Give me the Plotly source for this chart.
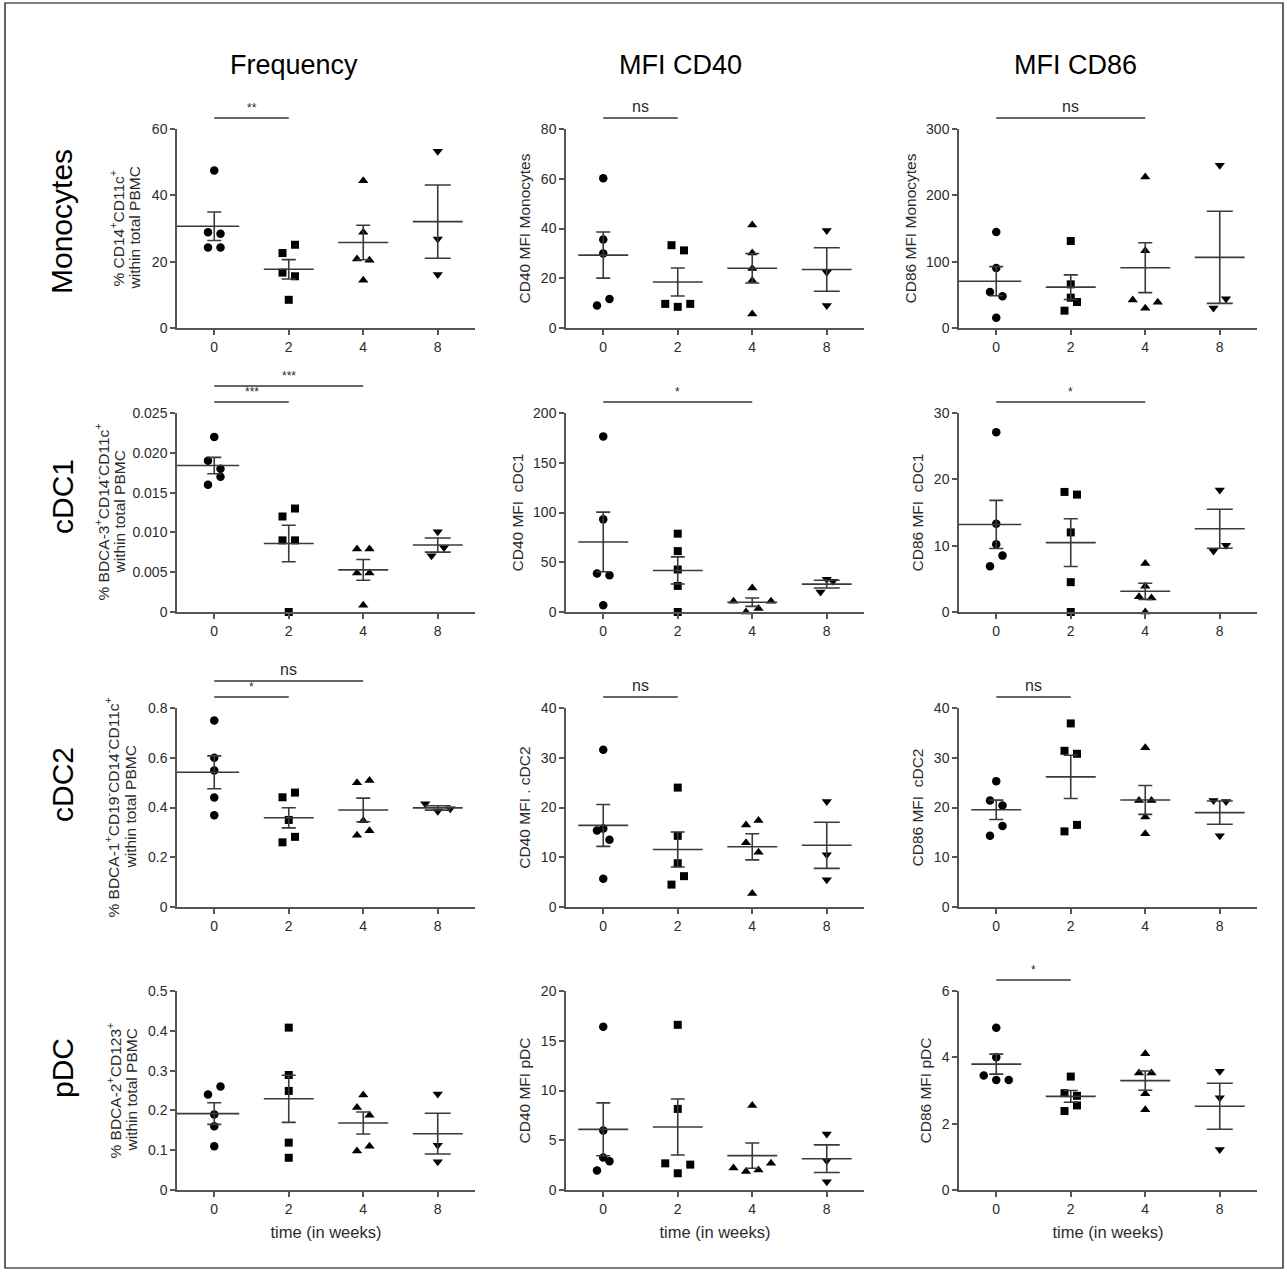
import numpy as np
import plotly.graph_objects as go

W, H = 1287, 1275
FONT = "Liberation Sans, Arial, sans-serif"
DARK = "#2b2b2b"
AXC = "#555555"

# ---------------- data ----------------
weeks = ["0", "2", "4", "8"]
row_names = ["Monocytes", "cDC1", "cDC2", "pDC"]
col_names = ["Frequency", "MFI CD40", "MFI CD86"]

mono_freq = [[47.5, 28.9, 28.4, 24.3, 24.3], [22.6, 25.1, 16.7, 15.6, 8.5],
             [44.4, 28.9, 20.8, 20.4, 14.4], [53.3, 26.8, 16.1]]
mono_cd40 = [[60.2, 35.6, 30.0, 9.0, 11.7], [33.3, 31.2, 9.7, 8.5, 9.7],
             [41.4, 30.2, 23.9, 19.1, 5.6], [39.2, 22.4, 9.0]]
mono_cd86 = [[144.7, 90.5, 54.3, 47.7, 15.6], [131.2, 65.8, 45.7, 26.1, 39.2],
             [227.6, 116.6, 42.2, 29.6, 38.7], [245.2, 30.2, 44.2]]

cdc1_freq = [[0.022, 0.019, 0.018, 0.016, 0.017], [0.012, 0.013, 0.009, 0.009, 0.0],
             [0.0079, 0.0079, 0.0049, 0.0049, 0.00084], [0.01008, 0.00706, 0.0081]]
cdc1_cd40 = [[176.5, 93.1, 38.7, 37.0, 6.7], [78.7, 61.2, 42.7, 26.2, 0.0],
             [24.2, 10.8, 0.0, 3.4, 10.8], [32.9, 20.2, 30.9]]
cdc1_cd86 = [[27.1, 13.3, 10.2, 6.9, 8.5], [18.1, 17.7, 12.0, 4.5, 0.0],
             [7.3, 3.9, 2.3, 2.1, 0.0], [18.4, 9.2, 10.05]]

cdc2_freq = [[0.75, 0.60, 0.549, 0.44, 0.369], [0.441, 0.46, 0.35, 0.26, 0.282],
             [0.499, 0.509, 0.347, 0.288, 0.307], [0.415, 0.385, 0.395]]
cdc2_cd40 = [[31.6, 15.4, 13.5, 15.8, 5.7], [24.0, 14.3, 8.8, 4.5, 6.2],
             [16.5, 17.4, 12.9, 11.0, 2.7], [21.2, 10.5, 5.5]]
cdc2_cd86 = [[25.3, 21.4, 20.4, 14.3, 16.3], [36.9, 31.4, 30.8, 15.2, 16.5],
             [32.0, 21.4, 21.4, 18.1, 14.7], [21.4, 21.2, 14.3]]

pdc_freq = [[0.24, 0.26, 0.19, 0.16, 0.11], [0.408, 0.289, 0.249, 0.119, 0.081],
            [0.239, 0.207, 0.188, 0.098, 0.11], [0.241, 0.1125, 0.071]]
pdc_cd40 = [[16.4, 5.97, 3.26, 1.95, 2.9], [16.6, 8.15, 2.68, 1.68, 2.55],
            [8.5, 2.2, 1.85, 2.0, 2.7], [5.64, 2.95, 0.84]]
pdc_cd86 = [[4.89, 4.0, 3.45, 3.32, 3.32], [3.42, 2.92, 2.84, 2.38, 2.55],
            [4.11, 3.53, 3.53, 2.9, 2.42], [3.58, 2.78, 1.22]]

panels = [[mono_freq, mono_cd40, mono_cd86],
          [cdc1_freq, cdc1_cd40, cdc1_cd86],
          [cdc2_freq, cdc2_cd40, cdc2_cd86],
          [pdc_freq, pdc_cd40, pdc_cd86]]

# first-column titles: two lines each
freq_title_l1 = ["% CD14<sup>+</sup>CD11c<sup>+</sup>",
                 "% BDCA-3<sup>+</sup>CD14<sup>-</sup>CD11c<sup>+</sup>",
                 "% BDCA-1<sup>+</sup>CD19<sup>-</sup>CD14<sup>-</sup>CD11c<sup>+</sup>",
                 "% BDCA-2<sup>+</sup>CD123<sup>+</sup>"]
freq_title_l2 = "within total PBMC"
mfi_titles = [["CD40 MFI Monocytes", "CD86 MFI Monocytes"],
              ["CD40 MFI  cDC1", "CD86 MFI  cDC1"],
              ["CD40 MFI . cDC2", "CD86 MFI  cDC2"],
              ["CD40 MFI pDC", "CD86 MFI pDC"]]
x_title = "time (in weeks)"

y_ticks = [
    [[0, 20, 40, 60], [0, 20, 40, 60, 80], [0, 100, 200, 300]],
    [[0, 0.005, 0.010, 0.015, 0.020, 0.025], [0, 50, 100, 150, 200], [0, 10, 20, 30]],
    [[0, 0.2, 0.4, 0.6, 0.8], [0, 10, 20, 30, 40], [0, 10, 20, 30, 40]],
    [[0, 0.1, 0.2, 0.3, 0.4, 0.5], [0, 5, 10, 15, 20], [0, 2, 4, 6]],
]
y_ticktext = [
    [["0", "20", "40", "60"], ["0", "20", "40", "60", "80"], ["0", "100", "200", "300"]],
    [["0", "0.005", "0.010", "0.015", "0.020", "0.025"], ["0", "50", "100", "150", "200"], ["0", "10", "20", "30"]],
    [["0", "0.2", "0.4", "0.6", "0.8"], ["0", "10", "20", "30", "40"], ["0", "10", "20", "30", "40"]],
    [["0", "0.1", "0.2", "0.3", "0.4", "0.5"], ["0", "5", "10", "15", "20"], ["0", "2", "4", "6"]],
]

# significance: (row, col, from week idx, to week idx, label, bracket level)
sig = [
    (0, 0, 0, 1, "**", 1), (0, 1, 0, 1, "ns", 1), (0, 2, 0, 2, "ns", 1),
    (1, 0, 0, 1, "***", 1), (1, 0, 0, 2, "***", 2), (1, 1, 0, 2, "*", 1), (1, 2, 0, 2, "*", 1),
    (2, 0, 0, 1, "*", 1), (2, 0, 0, 2, "ns", 2), (2, 1, 0, 1, "ns", 1), (2, 2, 0, 1, "ns", 1),
    (3, 2, 0, 1, "*", 1),
]

symbols = ["circle", "square", "triangle-up", "triangle-down"]
msize = [8.5, 8, 9, 9]

# ---------------- layout / style ----------------
col_px = [(177, 475), (566, 864), (959, 1257)]
row_px = [(129, 328), (413, 612), (708, 907), (991, 1190)]
freq_title_px = [(118, 134), (102, 119), (112, 130), (114, 131)]
XMIN, XMAX = -0.5, 3.5
PLOT_H = 199.0
UNIT_PX = (col_px[0][1] - col_px[0][0]) / (XMAX - XMIN)
ROW_THR = 11.0
GAP_PX = 12.5
HALF_MEAN = 0.335
TICK_FS = 14
# panels whose week-0 mean line is drawn from the y axis
wide_first_mean = {(0, 0), (1, 0), (2, 0), (3, 0), (0, 2), (1, 2)}


def dodge(vals, ymax):
    vals = np.asarray(vals, dtype=float)
    py = vals / ymax * PLOT_H
    order = np.argsort(py, kind="stable")
    rows, cur, start = [], [], None
    for i in order:
        if start is None or py[i] - start > ROW_THR:
            if cur:
                rows.append(cur)
            cur, start = [i], py[i]
        else:
            cur.append(i)
    if cur:
        rows.append(cur)
    off = np.zeros(len(vals))
    for r in rows:
        r = sorted(r)
        n = len(r)
        for k, i in enumerate(r):
            off[i] = (k - (n - 1) / 2) * GAP_PX / UNIT_PX
    return off


fig = go.Figure()
layout = dict(
    width=W, height=H, margin=dict(l=0, r=0, t=0, b=0, pad=0, autoexpand=False),
    autosize=False,
    paper_bgcolor="white", plot_bgcolor="white", showlegend=False,
    font=dict(family=FONT, color=DARK),
)
annotations = []
shapes = []

for r in range(4):
    for c in range(3):
        k = r * 3 + c + 1
        xa = "x" if k == 1 else f"x{k}"
        ya = "y" if k == 1 else f"y{k}"
        ticks = y_ticks[r][c]
        ymax = ticks[-1]
        data = panels[r][c]
        for w in range(4):
            vals = np.asarray(data[w], dtype=float)
            off = dodge(vals, ymax)
            fig.add_trace(go.Scatter(
                x=w + off, y=vals, xaxis=xa, yaxis=ya, mode="markers",
                marker=dict(symbol=symbols[w], size=msize[w], color="black"),
                cliponaxis=False, hoverinfo="y"))
            mean = vals.mean()
            sem = vals.std(ddof=1) / np.sqrt(len(vals))
            left = XMIN if (w == 0 and (r, c) in wide_first_mean) else w - HALF_MEAN
            fig.add_trace(go.Scatter(
                x=[left, w + HALF_MEAN], y=[mean, mean], xaxis=xa, yaxis=ya,
                mode="lines", line=dict(color="#3a3a3a", width=1.6), hoverinfo="skip"))
            fig.add_trace(go.Scatter(
                x=[w], y=[mean], xaxis=xa, yaxis=ya, mode="markers",
                marker=dict(size=1, color="rgba(0,0,0,0)"),
                error_y=dict(type="data", array=[sem], visible=True,
                             width=13 if w == 3 else 7, thickness=1.6, color="#3a3a3a"),
                hoverinfo="skip"))

        x0, x1 = col_px[c]
        y0, y1 = row_px[r]
        xax = dict(
            domain=[x0 / W, x1 / W], anchor=ya, range=[XMIN, XMAX], automargin=False,
            tickvals=[0, 1, 2, 3], ticktext=weeks, showgrid=False, zeroline=False,
            showline=True, linecolor=AXC, linewidth=1.5, ticks="outside", ticklen=5,
            tickcolor=AXC, tickwidth=1.5, tickfont=dict(size=TICK_FS, color=DARK, family=FONT),
        )
        if r == 3:
            xax["title"] = dict(text=x_title, font=dict(size=16.5, color=DARK, family=FONT), standoff=11)
        layout[f"xaxis{'' if k == 1 else k}"] = xax
        yax = dict(
            domain=[1 - y1 / H, 1 - y0 / H], anchor=xa, range=[0, ymax], automargin=False,
            tickvals=ticks, ticktext=y_ticktext[r][c], showgrid=False, zeroline=False,
            showline=True, linecolor=AXC, linewidth=1.5, ticks="outside", ticklen=5,
            tickcolor=AXC, tickwidth=1.5, tickfont=dict(size=TICK_FS, color=DARK, family=FONT),
        )
        if c > 0:
            yax["title"] = dict(text=mfi_titles[r][c - 1],
                                font=dict(size=15.5, color=DARK, family=FONT), standoff=6)
        layout[f"yaxis{'' if k == 1 else k}"] = yax

        if c == 0:
            yc = 1 - (y0 + y1) / 2 / H
            for txt, px in zip([freq_title_l1[r], freq_title_l2], freq_title_px[r]):
                annotations.append(dict(xref="paper", yref="paper", x=px / W, y=yc,
                                        xanchor="center", yanchor="middle", textangle=-90,
                                        text=txt, showarrow=False,
                                        font=dict(size=15.5, color=DARK, family=FONT)))

# significance brackets
for (r, c, a, b, lab, lvl) in sig:
    k = r * 3 + c + 1
    xd = "x domain" if k == 1 else f"x{k} domain"
    yd = "y domain" if k == 1 else f"y{k} domain"
    yy = 1 + (11 if lvl == 1 else 27) / PLOT_H
    fa = (a - XMIN) / (XMAX - XMIN)
    fb = (b - XMIN) / (XMAX - XMIN)
    shapes.append(dict(type="line", xref=xd, yref=yd, x0=fa, x1=fb, y0=yy, y1=yy,
                       line=dict(color="#333333", width=1.4)))
    annotations.append(dict(xref=xd, yref=yd, x=(fa + fb) / 2, y=yy + 1.0 / PLOT_H,
                            text=lab, showarrow=False, xanchor="center", yanchor="bottom",
                            font=dict(size=16 if lab == "ns" else 12, color=DARK, family=FONT)))

# column titles
col_title_x = [294, 680, 1075]
for c in range(3):
    annotations.append(dict(xref="paper", yref="paper", x=col_title_x[c] / W, y=1 - 65 / H,
                            xanchor="center", yanchor="middle",
                            text=col_names[c], showarrow=False,
                            font=dict(size=27, color="black", family=FONT)))
# row titles
row_title_y = [222, 497, 785, 1068]
for r in range(4):
    annotations.append(dict(xref="paper", yref="paper", x=62 / W, y=1 - row_title_y[r] / H,
                            xanchor="center", yanchor="middle",
                            text=row_names[r], showarrow=False, textangle=-90,
                            font=dict(size=30, color="black", family=FONT)))

# outer frame
shapes.append(dict(type="rect", xref="paper", yref="paper", x0=5 / W, x1=1283 / W,
                   y0=1 - 1268 / H, y1=1 - 3 / H, line=dict(color="black", width=1.2)))

layout["annotations"] = annotations
layout["shapes"] = shapes
fig.update_layout(**layout)
fig.write_html("out.html", post_script="document.body.style.margin='0px';")
